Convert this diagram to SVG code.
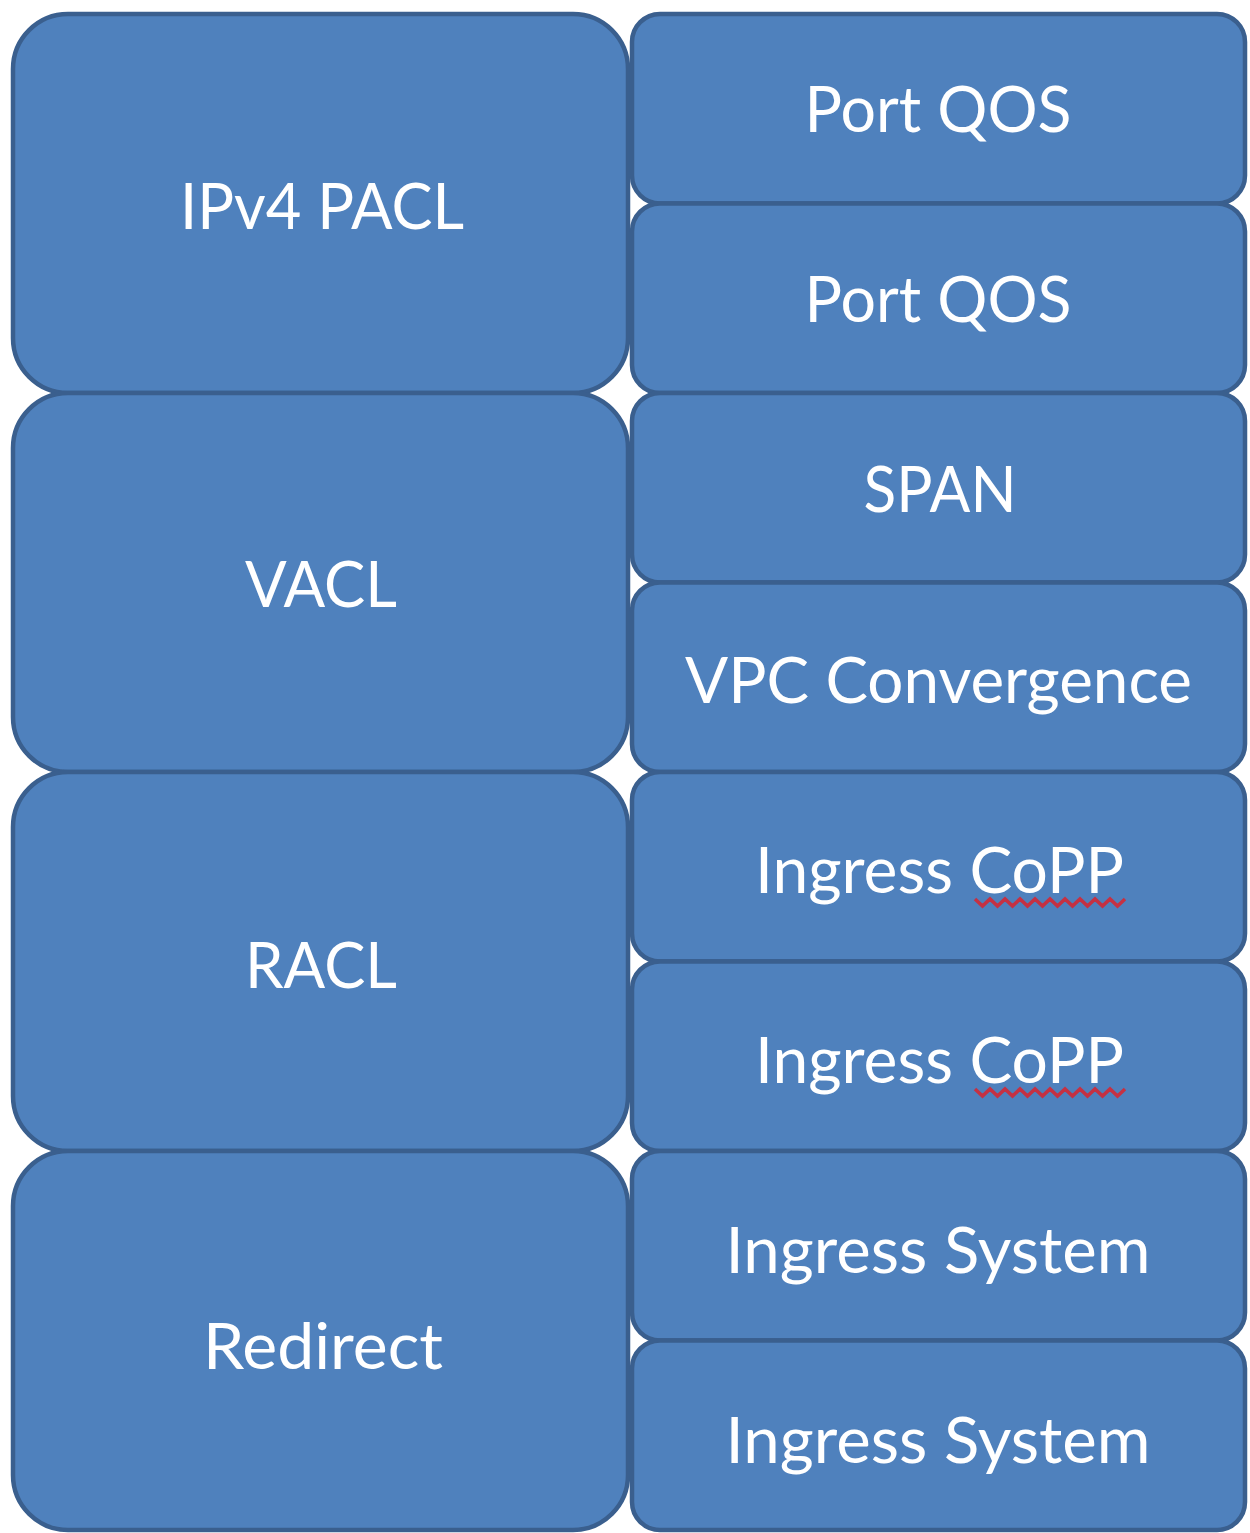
<svg xmlns="http://www.w3.org/2000/svg" width="1250" height="1533" viewBox="0 0 1250 1533">
<defs>
<style>
.box{fill:#4F81BD;stroke:#3A5F8E;stroke-width:4.5}
.lbl{font-family:Lato,"Open Sans","Liberation Sans",sans-serif;font-size:64px;fill:#FFFFFF;text-anchor:middle}
.sq{fill:none;stroke:#D9232E;stroke-width:3.5;stroke-opacity:0.85}
</style>
<path id="squig" class="sq" d="M0,0 l7.5,7 l7.5,-7 l7.5,7 l7.5,-7 l7.5,7 l7.5,-7 l7.5,7 l7.5,-7 l7.5,7 l7.5,-7 l7.5,7 l7.5,-7 l7.5,7 l7.5,-7 l7.5,7 l7.5,-7 l7.5,7 l7.5,-7 l7.5,7 l7.5,-7"/>
</defs>
<rect width="1250" height="1533" fill="#FFFFFF"/>
<g id="left">
<g id="n-ipv4pacl"><rect class="box" x="13" y="14" width="615" height="379" rx="55"/><text class="lbl" x="322" y="229" textLength="284" lengthAdjust="spacingAndGlyphs">IPv4 PACL</text></g>
<g id="n-vacl"><rect class="box" x="13" y="393" width="615" height="379" rx="55"/><text class="lbl" x="321" y="607" textLength="152" lengthAdjust="spacingAndGlyphs">VACL</text></g>
<g id="n-racl"><rect class="box" x="13" y="772" width="615" height="379" rx="55"/><text class="lbl" x="321" y="988" textLength="152" lengthAdjust="spacingAndGlyphs">RACL</text></g>
<g id="n-redirect"><rect class="box" x="13" y="1151" width="615" height="379" rx="55"/><text class="lbl" x="323" y="1369" textLength="240" lengthAdjust="spacingAndGlyphs">Redirect</text></g>
</g>
<g id="right">
<g id="n-portqos1"><rect class="box" x="632" y="14" width="613" height="189.5" rx="28"/><text class="lbl" x="938" y="132" textLength="267" lengthAdjust="spacingAndGlyphs">Port QOS</text></g>
<g id="n-portqos2"><rect class="box" x="632" y="203.5" width="613" height="189.5" rx="28"/><text class="lbl" x="938" y="322" textLength="267" lengthAdjust="spacingAndGlyphs">Port QOS</text></g>
<g id="n-span"><rect class="box" x="632" y="393" width="613" height="189.5" rx="28"/><text class="lbl" x="940" y="512" textLength="153" lengthAdjust="spacingAndGlyphs">SPAN</text></g>
<g id="n-vpc"><rect class="box" x="632" y="582.5" width="613" height="189.5" rx="28"/><text class="lbl" x="938.5" y="703" textLength="507" lengthAdjust="spacingAndGlyphs">VPC Convergence</text></g>
<g id="n-copp1"><rect class="box" x="632" y="772" width="613" height="189.5" rx="28"/><text class="lbl" x="939.5" y="893" textLength="369" lengthAdjust="spacingAndGlyphs">Ingress CoPP</text><use href="#squig" x="975" y="899"/></g>
<g id="n-copp2"><rect class="box" x="632" y="961.5" width="613" height="189.5" rx="28"/><text class="lbl" x="939.5" y="1083" textLength="369" lengthAdjust="spacingAndGlyphs">Ingress CoPP</text><use href="#squig" x="975" y="1089"/></g>
<g id="n-sys1"><rect class="box" x="632" y="1151" width="613" height="189.5" rx="28"/><text class="lbl" x="938" y="1273" textLength="425" lengthAdjust="spacingAndGlyphs">Ingress System</text></g>
<g id="n-sys2"><rect class="box" x="632" y="1340.5" width="613" height="189.5" rx="28"/><text class="lbl" x="938" y="1463" textLength="425" lengthAdjust="spacingAndGlyphs">Ingress System</text></g>
</g>
<g id="connectors"/>
</svg>
